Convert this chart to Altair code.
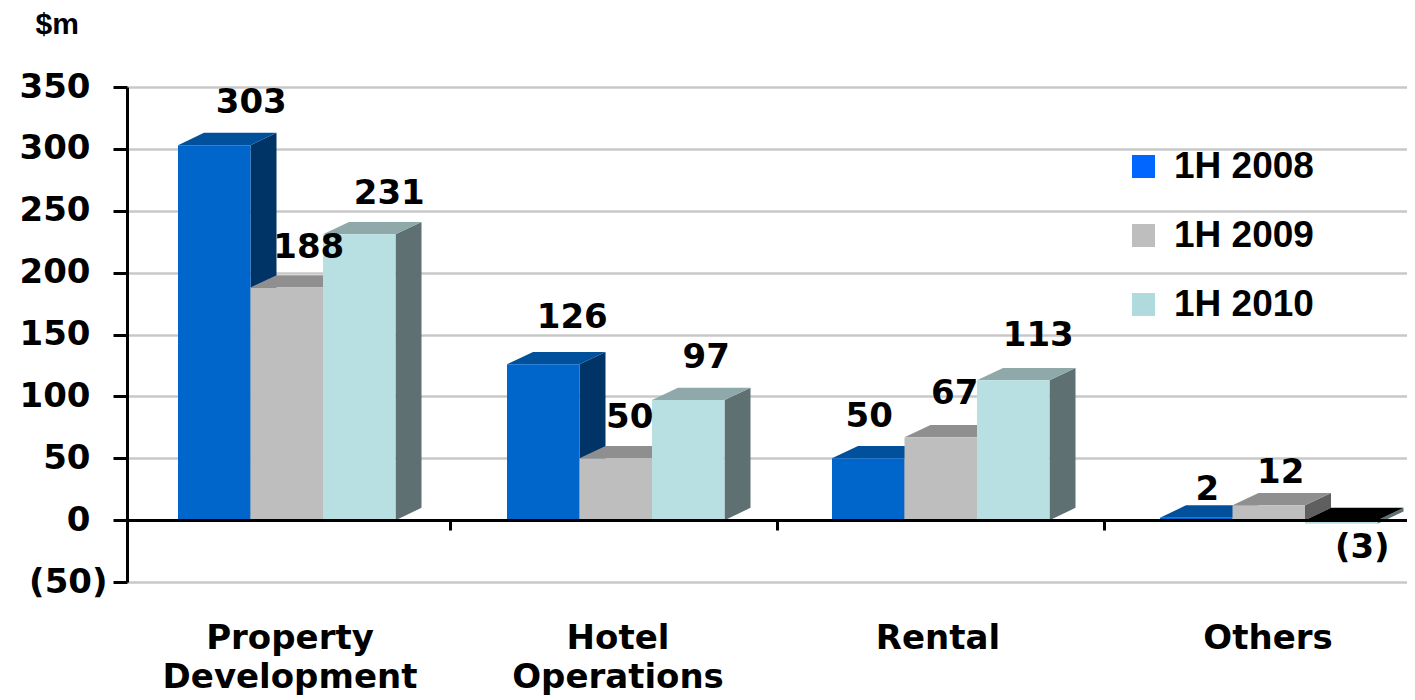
import altair as alt
import pandas as pd

# ---- chart values
CATEGORIES = ["Property\nDevelopment", "Hotel\nOperations", "Rental", "Others"]
SERIES = ["1H 2008", "1H 2009", "1H 2010"]
V2008 = [303, 126, 50, 2]
V2009 = [188, 50, 67, 12]
V2010 = [231, 97, 113, -3]
Y_TICKS = [-50, 0, 50, 100, 150, 200, 250, 300, 350]

# ---- layout (pixels on the page) and styling
PLOT_W, PLOT_H = 1280, 495
CAT_W = 327.0
PX_PER_UNIT = PLOT_H / 400
X0 = 4 / CAT_W                 # category 0 starts 4 px left of the axis
GROUP_PX = [178, 507, 832, 1160]
BAR_W = 72.5 / CAT_W
DEPTH_X = 26 / CAT_W
DEPTH_Y = 12.3 / PX_PER_UNIT

FRONT = ["#0066CC", "#BEBEBE", "#B8DFE2"]
TOP = ["#00509B", "#8F8F8F", "#8FA8AA"]
SIDE = ["#003366", "#5F5F5F", "#5E7072"]
LEGEND = ["#0066FF", "#BEBEBE", "#B0DADD"]
LABEL_FONT = "DejaVu Sans"
LABEL_SIZE = 34
# per-label nudges from the bar's front-top centre, px
LABEL_DX = [[37, 29, 1, 11], [22, 14, 14, 12], [30, 18, 25, 21]]
LABEL_DY = [[-42, -46, -41, -28], [-39, -40, -43, -32], [-40, -42, -44, 24]]
CAT_CENTER_PX = [290, 618, 938, 1268]

VALUES = [V2008, V2009, V2010]

x_scale = alt.Scale(domain=[X0, X0 + PLOT_W / CAT_W], nice=False, zero=False)
y_scale = alt.Scale(domain=[-50, 350], nice=False, zero=False)
X = alt.X("x:Q", scale=x_scale)
Y = alt.Y("y:Q", scale=y_scale, stack=None)


def geometry(i, j):
    v = VALUES[j][i]
    left = (GROUP_PX[i] - 123) / CAT_W + j * BAR_W
    right = left + BAR_W
    return v, left, right, min(v, 0), max(v, 0)


layers = []

# axes and grid
axis_df = pd.DataFrame({"x": [1, 2, 3], "y": [0, 0, 0]})
layers.append(
    alt.Chart(axis_df).mark_point(opacity=0).encode(
        x=alt.X("x:Q", scale=x_scale, axis=alt.Axis(
            title=None, values=[1, 2, 3], labels=False, grid=False, offset=-62,
            tickColor="black", tickWidth=3, tickSize=10,
            domainColor="black", domainWidth=3, zindex=1)),
        y=alt.Y("y:Q", scale=y_scale, axis=alt.Axis(
            title="$m", values=Y_TICKS,
            labelExpr="datum.value < 0 ? '(' + abs(datum.value) + ')' : datum.value + '\u2002\u200b'",
            labelFont=LABEL_FONT, labelFontWeight="bold", labelFontSize=LABEL_SIZE, labelColor="black",
            labelPadding=6, labelBaseline="middle",
            tickColor="black", tickWidth=3, tickSize=14,
            domainColor="black", domainWidth=3,
            grid=True, gridColor="#C8C8C8", gridWidth=2.5, zindex=0,
            titleFont="Liberation Sans", titleFontWeight="bold", titleFontSize=30,
            titleColor="black", titleAngle=0, titleAlign="left", titleBaseline="middle",
            titleX=-92, titleY=-63)),
    )
)

# bars, one series at a time, back faces first
for j in range(3):
    side, top, front = [], [], []
    for i in range(4):
        v, left, right, low, high = geometry(i, j)
        b = f"{i}-{j}"
        fill = "#000000" if v < 0 else TOP[j]
        side += [
            {"x": right, "y": low, "y2": high, "bar": b},
            {"x": right + DEPTH_X, "y": low + DEPTH_Y, "y2": high + DEPTH_Y, "bar": b},
        ]
        top += [
            {"x": left, "y": high, "y2": high, "bar": b, "fill": fill},
            {"x": left + DEPTH_X, "y": high, "y2": high + DEPTH_Y, "bar": b, "fill": fill},
            {"x": right, "y": high, "y2": high + DEPTH_Y, "bar": b, "fill": fill},
            {"x": right + DEPTH_X, "y": high + DEPTH_Y, "y2": high + DEPTH_Y, "bar": b, "fill": fill},
        ]
        front.append({"x": left, "x2": right, "y": low, "y2": high})
    layers.append(alt.Chart(pd.DataFrame(side)).mark_area(
        color=SIDE[j], interpolate="linear", orient="vertical", opacity=1
    ).encode(x=X, y=Y, y2="y2:Q", detail="bar:N"))
    layers.append(alt.Chart(pd.DataFrame(top)).mark_area(
        interpolate="linear", orient="vertical", opacity=1
    ).encode(x=X, y=Y, y2="y2:Q", detail="bar:N", color=alt.Color("fill:N", scale=None)))
    layers.append(alt.Chart(pd.DataFrame(front)).mark_rect(color=FRONT[j]).encode(
        x=X, x2="x2:Q", y=Y, y2="y2:Q"))

# value labels
rows = []
for j in range(3):
    for i in range(4):
        v, left, right, low, high = geometry(i, j)
        txt = f"({abs(v)})" if v < 0 else str(v)
        anchor = low if v < 0 else high
        rows.append({"x": (left + right) / 2 + LABEL_DX[j][i] / CAT_W,
                     "y": anchor - LABEL_DY[j][i] / PX_PER_UNIT, "t": txt})
layers.append(alt.Chart(pd.DataFrame(rows)).mark_text(
    font=LABEL_FONT, fontWeight="bold", fontSize=LABEL_SIZE, color="black", baseline="middle", align="center"
).encode(x=X, y=Y, text="t:N"))

# category labels below the plot
cats = pd.DataFrame({
    "x": [(c - 123) / CAT_W for c in CAT_CENTER_PX],
    "y": [-50 - (622 - 582) / PX_PER_UNIT] * 4,
    "t": CATEGORIES,
})
layers.append(alt.Chart(cats).mark_text(
    font=LABEL_FONT, fontWeight="bold", fontSize=LABEL_SIZE, color="black", baseline="top",
    align="center", lineBreak="\n", lineHeight=39
).encode(x=X, y=Y, text="t:N"))

# legend
leg_df = pd.DataFrame({"x": [1.0, 1.0, 1.0], "y": [0, 0, 0], "s": SERIES})
layers.append(alt.Chart(leg_df).mark_square(opacity=0).encode(
    x=X, y=Y,
    color=alt.Color("s:N", scale=alt.Scale(domain=SERIES, range=LEGEND), legend=alt.Legend(
        title=None, orient="none", legendX=998, legendY=61, padding=0,
        symbolType="square", symbolSize=529, symbolOpacity=1, symbolStrokeWidth=0,
        labelFont="Liberation Sans", labelFontWeight="bold", labelFontSize=37, labelColor="black",
        labelOffset=12, rowPadding=31, labelLimit=300)),
))

chart = alt.layer(*layers).properties(
    width=PLOT_W, height=PLOT_H,
    autosize=alt.AutoSizeParams(type="none"),
    padding={"left": 119, "top": 79, "right": 0, "bottom": 118},
).configure_view(stroke=None)

chart.save("out.html", embed_options={"renderer": "svg", "actions": False})
